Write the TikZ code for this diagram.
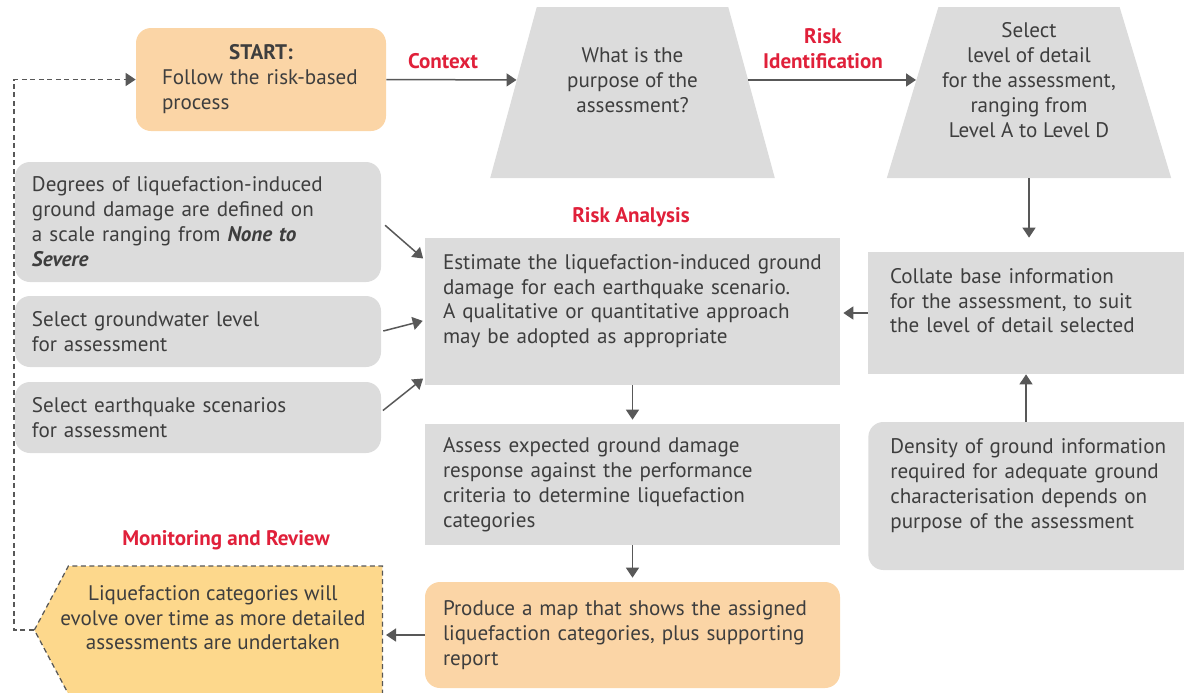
\documentclass[tikz,border=0pt]{standalone}
\usepackage{fontspec}
\setmainfont{PT Sans}
\usetikzlibrary{calc,shapes.geometric,shapes.symbols,arrows.meta}
\definecolor{boxgrey}{RGB}{220,220,220}
\definecolor{startorange}{RGB}{251,213,166}
\definecolor{reviewyellow}{RGB}{253,216,140}
\definecolor{riskred}{RGB}{224,32,58}
\definecolor{txtgrey}{RGB}{62,62,62}
\definecolor{arrgrey}{RGB}{88,88,88}
\def\flowfont{\fontsize{12pt}{14.2pt}\selectfont}
\tikzset{
	flow/.style={draw=arrgrey, line width=0.3mm, -{Triangle[length=2mm,width=2.6mm]}},
	loopback/.style={draw=arrgrey, line width=0.25mm, dash pattern=on 1mm off 0.7mm, -{Triangle[length=2mm,width=2.6mm]}},
	stage/.style={font=\flowfont\bfseries, text=riskred, align=center},
	greybox/.style={fill=boxgrey, text=txtgrey, font=\flowfont, align=left, inner ysep=0pt},
	roundbox/.style={greybox, rounded corners=3mm},
	question/.style={shape=trapezium, trapezium left angle=70.5, trapezium right angle=70.5, trapezium stretches=true, minimum width=57mm, minimum height=34.2mm, fill=boxgrey, text=txtgrey, font=\flowfont, align=center, inner sep=0pt}
}

\begin{document}
\begin{tikzpicture}[x=0.2mm, y=-0.2mm]
			%%%%% START %%%%%
			\useasboundingbox (0, 0) rectangle (1184, 692);
			
			\node[roundbox, fill=startorange, text width=39.6mm, inner xsep=5.2mm, minimum height=20.6mm] (start) at (261, 79.5) {{\centering\textbf{START:}\par}Follow the risk-based\\process};
			\node[question] (purpose) at (632.5, 92.5) {What is the\\purpose of the\\assessment?\\\mbox{}};
			\node[question] (select) at (1029, 92.5) {Select\\level of detail\\for the assessment,\\ranging from\\Level A to Level D\\\mbox{}};
			
			\node[stage] (context) at (443, 61) {Context};
			\node[stage] (identify) at (823, 48.5) {Risk\\Identification};
			\node[stage] (analysis) at (631, 217) {Risk Analysis};
			\node[stage] (review) at (226, 540) {Monitoring and Review};
			
			\node[roundbox, text width=66.4mm, inner xsep=3.4mm, minimum height=24mm] (degrees) at (198, 222) {Degrees of liquefaction-induced\\ground damage are defined on\\a scale ranging from \textbf{\textit{None to}}\\\textbf{\textit{Severe}}};
			\node[roundbox, text width=66.4mm, inner xsep=3.4mm, minimum height=14.2mm] (water) at (198, 331.5) {Select groundwater level\\for assessment};
			\node[roundbox, text width=66.4mm, inner xsep=3.4mm, minimum height=14.2mm] (quake) at (198, 417.5) {Select earthquake scenarios\\for assessment};
			
			\node[greybox, text width=75.8mm, inner xsep=3.6mm, minimum height=29.4mm] (estimate) at (632.5, 311.5) {Estimate the liquefaction-induced ground\\damage for each earthquake scenario.\\A qualitative or quantitative approach\\may be adopted as appropriate\\\mbox{}};
			\node[greybox, text width=75.8mm, inner xsep=3.6mm, minimum height=24.2mm] (assess) at (632.5, 484.5) {Assess expected ground damage\\response against the performance\\criteria to determine liquefaction\\categories};
			\node[roundbox, fill=startorange, text width=75.8mm, inner xsep=3.6mm, minimum height=21.2mm] (produce) at (632.5, 635) {Produce a map that shows the assigned\\liquefaction categories, plus supporting\\report};
			
			\node[greybox, text width=54.4mm, inner xsep=4.4mm, minimum height=24.4mm] (collate) at (1026, 313) {Collate base information\\for the assessment, to suit\\the level of detail selected\\\mbox{}};
			\node[roundbox, text width=57mm, inner xsep=4.4mm, minimum height=29.6mm, anchor=west] (density) at (868, 496) {Density of ground information\\required for adequate ground\\characterisation depends on\\purpose of the assessment\\\mbox{}};
			
			\node[shape=signal, signal to=west, signal pointer angle=124, minimum width=69.6mm, minimum height=25.6mm, inner sep=0pt, fill=reviewyellow, draw=arrgrey, line width=0.25mm, dash pattern=on 1mm off 0.7mm, text=txtgrey, font=\flowfont, align=center, anchor=east] (evolve) at (383, 630) {\hspace*{-5mm}Liquefaction categories will\\\hspace*{-5mm}evolve over time as more detailed\\\hspace*{-5mm}assessments are undertaken\\\mbox{}};
			
			\draw[flow] (start.east) -- ($(purpose.top left corner)!0.427!(purpose.bottom left corner)$);
			\draw[flow] ($(purpose.top right corner)!0.427!(purpose.bottom right corner)$) -- ($(select.top left corner)!0.427!(select.bottom left corner)$);
			\draw[flow, shorten >=2.8mm] (select.south) -- (select.south |- collate.north);
			\draw[flow] (density.north -| collate.south) -- (collate.south);
			\draw[flow, shorten >=0.6mm] (collate.west) -- (collate.west -| estimate.east);
			
			\draw[flow, shorten <=1mm, shorten >=0.4mm] (degrees.east) -- ($(estimate.north west)!0.15!(estimate.south west)$);
			\draw[flow, shorten <=0.4mm, shorten >=0.4mm] (water.east) -- ($(estimate.north west)!0.56!(estimate.south west)$);
			\draw[flow, shorten <=0.4mm, shorten >=0.4mm] ($(quake.north east)!0.42!(quake.south east)$) -- ($(estimate.north west)!0.945!(estimate.south west)$);
			
			\draw[flow, shorten >=0.8mm] (estimate.south) -- (assess.north);
			\draw[flow, shorten >=0.8mm] (assess.south) -- (produce.north);
			\draw[flow, shorten >=0.6mm] (produce.west) -- (produce.west -| evolve.east);
			
			\coordinate (corner) at (14, 630);
			\draw[loopback] (evolve.west) -- (corner) |- (start.west);
			
			%%%%% END %%%%%
		\end{tikzpicture}
\end{document}
